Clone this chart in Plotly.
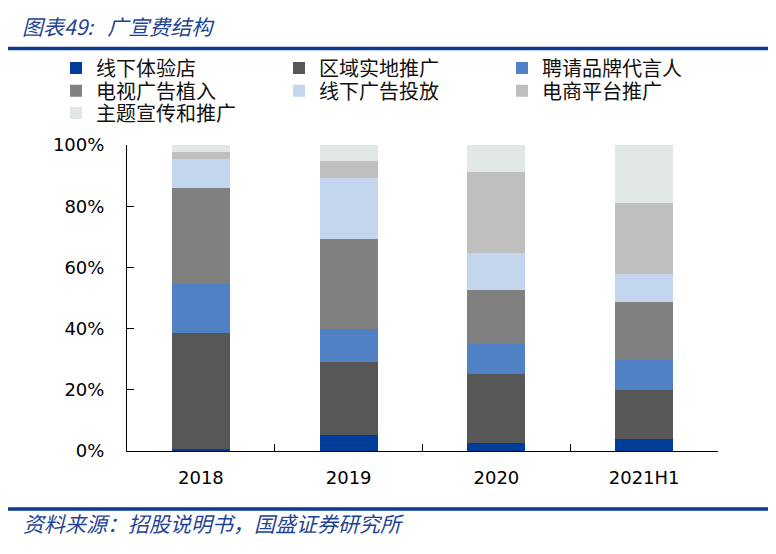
import plotly.graph_objects as go

# 데이터 =========================================================================
years = ['2018', '2019', '2020', '2021H1']

offline_store = [0.006, 0.053, 0.025, 0.038]     # 线下体验店
regional_promo = [0.381, 0.237, 0.227, 0.162]    # 区域实地推广
spokesperson = [0.159, 0.110, 0.099, 0.099]      # 聘请品牌代言人
tv_placement = [0.314, 0.292, 0.175, 0.187]      # 电视广告植入
offline_ads = [0.094, 0.200, 0.120, 0.091]       # 线下广告投放
ecommerce = [0.022, 0.057, 0.265, 0.234]         # 电商平台推广
theme_promo = [0.024, 0.051, 0.089, 0.189]       # 主题宣传和推广

series_names = ['线下体验店', '区域实地推广', '聘请品牌代言人', '电视广告植入',
                '线下广告投放', '电商平台推广', '主题宣传和推广']
series_values = [offline_store, regional_promo, spokesperson, tv_placement,
                 offline_ads, ecommerce, theme_promo]
series_colors = ['#003D99', '#575757', '#4F81C4', '#808080',
                 '#C4D5EE', '#BFBFBF', '#E2E7E7']
# 범례 행 (3개씩 한 줄)
legend_rows = ['legend', 'legend', 'legend', 'legend2', 'legend2', 'legend2', 'legend3']

cjk = 'Noto Sans CJK SC'
num = 'DejaVu Sans'
blue = '#0B3C8F'

# 페이지 body 여백(8px) 보정용 크기/여백 ==========================================
W, H = 768, 546
L, T, R, B = 119, 137, 58, 103
PW, PH = W - L - R, H - T - B


def px_x(x):
    return (x - 8 - L) / PW


def px_y(y):
    return (H - B - (y - 8)) / PH


fig = go.Figure()
for name, vals, col, lg in zip(series_names, series_values, series_colors, legend_rows):
    fig.add_trace(go.Bar(
        x=years, y=vals, name=name, legend=lg,
        marker=dict(color=col, line=dict(width=0)),
    ))

legend_common = dict(
    orientation='h', traceorder='normal', xanchor='left', yanchor='middle',
    x=px_x(56), entrywidth=178, entrywidthmode='pixels',
    font=dict(family=cjk, size=20, color='#111111'),
    bgcolor='rgba(0,0,0,0)',
)

fig.update_layout(
    width=W, height=H,
    barmode='stack', bargap=0.607,
    plot_bgcolor='white', paper_bgcolor='white',
    margin=dict(l=L, r=R, t=T, b=B),
    showlegend=True,
    legend=dict(legend_common, y=px_y(68)),
    legend2=dict(legend_common, y=px_y(90.7)),
    legend3=dict(legend_common, y=px_y(113)),
    title=dict(
        text='图表49:\u00a0\u00a0\u00a0广宣费结构',
        xref='container', yref='container', x=14 / W, y=1 - 19.7 / H,
        xanchor='left', yanchor='middle',
        font=dict(family=cjk, size=21, color='#1F4494', style='italic'),
    ),
    xaxis=dict(
        type='category', showline=True, linecolor='black', linewidth=1,
        ticks='inside', ticklen=7, tickcolor='black', tickson='boundaries',
        tickfont=dict(family=num, size=18, color='black'),
        ticklabelstandoff=10, showgrid=False, zeroline=False,
    ),
    yaxis=dict(
        range=[0, 1], dtick=0.2, tickformat='.0%',
        showline=True, linecolor='black', linewidth=1,
        ticks='inside', ticklen=7, tickcolor='black',
        tickfont=dict(family=num, size=18, color='black'),
        ticklabelstandoff=18, showgrid=False, zeroline=False,
    ),
)

# 상하 파란 구분선 및 출처 =========================================================
for yy in (48.5, 509):
    fig.add_shape(type='line', xref='paper', yref='paper',
                  x0=px_x(8), x1=px_x(770), y0=px_y(yy), y1=px_y(yy),
                  line=dict(color=blue, width=3.5))
fig.add_annotation(
    text='资料来源：招股说明书，国盛证券研究所',
    xref='paper', yref='paper', x=px_x(21), y=px_y(523),
    xanchor='left', yanchor='middle', showarrow=False,
    font=dict(family=cjk, size=21, color='#1F4494', style='italic'),
)

fig.write_html("out.html")
